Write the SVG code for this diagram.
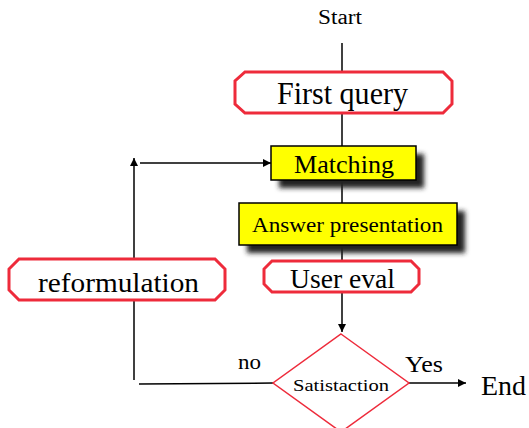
<svg xmlns="http://www.w3.org/2000/svg" width="529" height="428" viewBox="0 0 529 428">
<style>
text{font-family:"Liberation Serif","Times New Roman",serif;fill:#000}
.oct{fill:#fff;stroke:#ee2b3b;stroke-width:3}
.box{fill:#ffff00;stroke:#000;stroke-width:1.5}
.sh{fill:#222;filter:url(#blur)}
.ln{fill:none;stroke:#000;stroke-width:1.5}
</style>
<defs>
<filter id="blur" x="-20%" y="-50%" width="140%" height="200%"><feGaussianBlur stdDeviation="2.5"/></filter>
<marker id="ah" viewBox="0 0 10 10" refX="10" refY="5" markerWidth="8" markerHeight="8" markerUnits="userSpaceOnUse" orient="auto"><path d="M0,0 L10,5 L0,10 z" fill="#000"/></marker>
</defs>
<rect width="529" height="428" fill="#fff"/>
<g id="connectors">
<line class="ln" x1="342" y1="43" x2="342" y2="72"/>
<line class="ln" x1="342" y1="113" x2="342" y2="146"/>
<line class="ln" x1="342" y1="180" x2="342" y2="203"/>
<line class="ln" x1="342" y1="245" x2="342" y2="261"/>
<line class="ln" x1="342" y1="292" x2="342" y2="332" marker-end="url(#ah)"/>
<line class="ln" x1="134" y1="258" x2="134" y2="158" marker-end="url(#ah)"/>
<line class="ln" x1="140" y1="163" x2="271" y2="163" marker-end="url(#ah)"/>
<line class="ln" x1="134" y1="301" x2="134" y2="380"/>
<line class="ln" x1="139" y1="384" x2="273" y2="383"/>
<line class="ln" x1="409" y1="383" x2="466" y2="383" marker-end="url(#ah)"/>
</g>
<g id="start"><text x="318" y="24" font-size="20" textLength="44" lengthAdjust="spacingAndGlyphs">Start</text></g>
<g id="first-query">
<polygon class="oct" points="245,72 443,72 452,81 452,104 443,113 245,113 235,104 235,81"/>
<text x="277" y="104" font-size="31" textLength="131" lengthAdjust="spacingAndGlyphs">First query</text>
</g>
<g id="matching">
<rect class="sh" x="279" y="154" width="145" height="34"/>
<rect class="box" x="271" y="146" width="145" height="34"/>
<text x="294" y="173" font-size="25" textLength="100" lengthAdjust="spacingAndGlyphs">Matching</text>
</g>
<g id="answer-presentation">
<rect class="sh" x="247" y="211" width="218" height="42"/>
<rect class="box" x="239" y="203" width="218" height="42"/>
<text x="252" y="232" font-size="21" textLength="191" lengthAdjust="spacingAndGlyphs">Answer presentation</text>
</g>
<g id="user-eval">
<polygon class="oct" points="272,261 411,261 419,269 419,284 411,292 272,292 264,284 264,269"/>
<text x="290" y="288" font-size="27" textLength="105" lengthAdjust="spacingAndGlyphs">User eval</text>
</g>
<g id="reformulation">
<polygon class="oct" points="19,259 215,259 225,269 225,290 215,300 19,300 9,290 9,269"/>
<text x="38" y="292" font-size="27" textLength="161" lengthAdjust="spacingAndGlyphs">reformulation</text>
</g>
<g id="satisfaction">
<polygon points="341,334 409,383 341,432 273,383" fill="#fff" stroke="#ee2b3b" stroke-width="1.5"/>
<text x="293" y="391" font-size="17" textLength="96" lengthAdjust="spacingAndGlyphs">Satistaction</text>
</g>
<g id="labels">
<text x="238" y="369" font-size="20" textLength="23" lengthAdjust="spacingAndGlyphs">no</text>
<text x="405" y="372" font-size="24" textLength="38" lengthAdjust="spacingAndGlyphs">Yes</text>
<text x="481" y="395" font-size="28" textLength="45" lengthAdjust="spacingAndGlyphs">End</text>
</g>
</svg>
